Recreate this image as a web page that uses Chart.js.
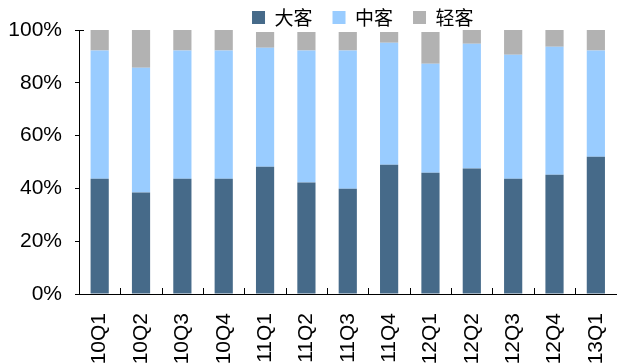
<!DOCTYPE html>
<html>
<head>
<meta charset="utf-8">
<script src="https://cdn.jsdelivr.net/npm/chart.js@4"></script>
<style>
html,body{margin:0;padding:0;background:#fff;}
#wrap{width:641px;height:363px;position:relative;}
</style>
</head>
<body>
<div id="wrap"><canvas id="c" width="641" height="363"></canvas></div>
<script>
const categories = ['10Q1','10Q2','10Q3','10Q4','11Q1','11Q2','11Q3','11Q4','12Q1','12Q2','12Q3','12Q4','13Q1'];
const seriesNames = ['大客','中客','轻客'];
const largeBus = [43.7, 38.4, 43.7, 43.7, 48.2, 42.2, 39.9, 49.0, 45.9, 47.5, 43.7, 45.2, 52.0];
const mediumBus = [48.5, 47.3, 48.5, 48.5, 45.1, 50.0, 52.3, 46.2, 41.3, 47.3, 46.9, 48.5, 40.2];
const lightBus = [7.8, 14.3, 7.8, 7.8, 5.9, 7.0, 7.0, 4.0, 12.0, 5.2, 9.4, 6.3, 7.8];
const yTicks = [0, 20, 40, 60, 80, 100];

const innerTicks = {
  id: 'innerTicks',
  afterLayout(chart) {
    chart.legend.left += 15;
    chart.legend.right += 15;
  },
  afterDraw(chart) {
    const ctx = chart.ctx;
    const xs = chart.scales.x, ys = chart.scales.y;
    ctx.save();
    ctx.strokeStyle = '#000';
    ctx.lineWidth = 1;
    ctx.beginPath();
    for (let i = 1; i < categories.length; i++) {
      const x = Math.round((xs.getPixelForTick(i - 1) + xs.getPixelForTick(i)) / 2) + 0.5;
      ctx.moveTo(x, ys.bottom);
      ctx.lineTo(x, ys.bottom - 6);
    }
    const yt = Math.round(ys.getPixelForValue(100)) + 0.5;
    ctx.moveTo(xs.left, yt);
    ctx.lineTo(xs.left + 5, yt);
    ctx.stroke();
    ctx.restore();
  }
};

new Chart(document.getElementById('c'), {
  type: 'bar',
  data: {
    labels: categories,
    datasets: [
      {label: seriesNames[0], data: largeBus, backgroundColor: '#466a89'},
      {label: seriesNames[1], data: mediumBus, backgroundColor: '#99ccff'},
      {label: seriesNames[2], data: lightBus, backgroundColor: '#b2b2b2'}
    ]
  },
  options: {
    responsive: false,
    animation: false,
    layout: {padding: {top: -12, left: 0, right: 0, bottom: 0}},
    datasets: {bar: {categoryPercentage: 1, barPercentage: 0.44}},
    plugins: {
      tooltip: {enabled: false},
      legend: {
        position: 'top',
        fullSize: false,
        maxHeight: 42,
        labels: {
          boxWidth: 13, boxHeight: 13, padding: 20,
          color: '#000',
          font: {family: '"Noto Sans CJK SC"', size: 19}
        }
      }
    },
    scales: {
      x: {
        stacked: true,
        grid: {display: false, drawTicks: false},
        border: {display: true, color: '#000', width: 1},
        ticks: {
          autoSkip: false, minRotation: 90, maxRotation: 90, padding: 19,
          color: '#000', font: {family: '"Liberation Sans", Arial', size: 21}
        },
        afterFit(s) { s.height = 69; }
      },
      y: {
        stacked: true, min: 0, max: 100,
        afterBuildTicks(s) { s.ticks = yTicks.map(v => ({value: v})); },
        grid: {drawOnChartArea: false, drawTicks: true, tickLength: 4, color: '#000'},
        border: {display: true, color: '#000', width: 1},
        ticks: {
          padding: 13, color: '#000',
          font: {family: '"Liberation Sans", Arial', size: 21},
          callback: v => v + '%'
        },
        afterFit(s) { s.width = 79; }
      }
    }
  },
  plugins: [innerTicks]
});
</script>
</body>
</html>
